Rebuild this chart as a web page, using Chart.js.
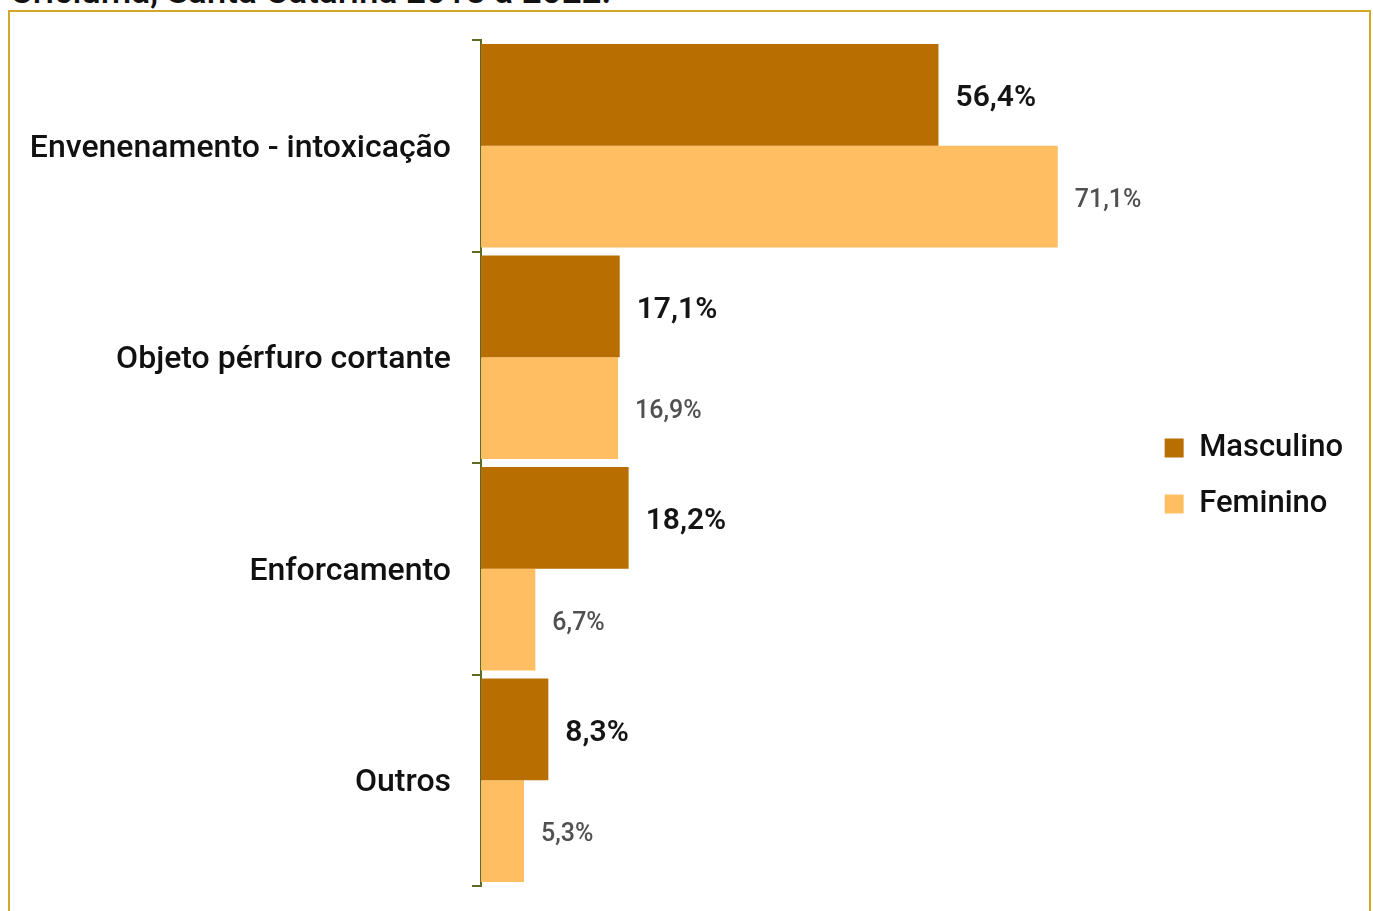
<!DOCTYPE html>
<html>
<head>
<meta charset="utf-8">
<script src="https://cdn.jsdelivr.net/npm/chart.js@4"></script>
<style>
  html, body { margin: 0; padding: 0; background: #fff; overflow: hidden; }
  body { width: 1373px; height: 911px; position: relative; font-family: Roboto, sans-serif; }
  #titulo { position: absolute; left: 10px; top: -29px; font-size: 35px; font-weight: 500; color: #111; white-space: nowrap; }
  #caixa { position: absolute; left: 8px; top: 10px; width: 1359px; height: 920px; border: 2px solid #D4A62A; background: #fff; }
  #wrap { position: absolute; left: 0; top: 0; width: 1373px; height: 911px; }
</style>
</head>
<body>
<div id="titulo">Criciúma, Santa Catarina 2018 a 2022.</div>
<div id="caixa"></div>
<div id="wrap"><canvas id="grafico"></canvas></div>
<script>
// meios utilizados, por sexo (%)
const categorias = ['Envenenamento - intoxicação', 'Objeto pérfuro cortante', 'Enforcamento', 'Outros'];
const masculino = [56.4, 17.1, 18.2, 8.3];
const feminino = [71.1, 16.9, 6.7, 5.3];

const corMasc = '#B86E00';
const corFem = '#FFBE62';
const corEixo = '#5E6B22';

// rótulo com o valor ao lado de cada barra
const rotulos = {
    id: 'rotulos',
    afterDatasetsDraw(chart) {
        const ctx = chart.ctx;
        chart.data.datasets.forEach((ds, i) => {
            const meta = chart.getDatasetMeta(i);
            ctx.save();
            if (i === 0) {
                ctx.font = '600 30px Roboto';
                ctx.fillStyle = '#151515';
            } else {
                ctx.font = '500 25px Roboto';
                ctx.fillStyle = '#505050';
            }
            ctx.textBaseline = 'middle';
            ctx.textAlign = 'left';
            meta.data.forEach((bar, j) => {
                const txt = ds.data[j].toFixed(1).replace('.', ',') + '%';
                ctx.fillText(txt, bar.x + 17, bar.y + 4);
            });
            ctx.restore();
        });
    }
};

const ctx = document.getElementById('grafico').getContext('2d');
const grafico = new Chart(ctx, {
    type: 'bar',
    data: {
        labels: categorias,
        datasets: [{
            label: 'Masculino',
            data: masculino,
            backgroundColor: corMasc
        }, {
            label: 'Feminino',
            data: feminino,
            backgroundColor: corFem
        }]
    },
    options: {
        indexAxis: 'y',
        responsive: true,
        maintainAspectRatio: false,
        animation: false,
        datasets: {
            bar: { categoryPercentage: 0.962, barPercentage: 1.0 }
        },
        layout: {
            padding: { top: 40, bottom: 25, left: 0, right: 20 }
        },
        scales: {
            x: {
                display: false,
                min: 0,
                max: 81.2
            },
            y: {
                afterFit(scale) {
                    scale.width = 481;
                    scale.paddingTop = 0;
                    scale.paddingBottom = 0;
                },
                grid: {
                    offset: true,
                    drawOnChartArea: false,
                    color: corEixo,
                    lineWidth: 2,
                    tickLength: 9
                },
                border: { color: corEixo, width: 2 },
                ticks: {
                    color: '#111',
                    padding: 21,
                    labelOffset: 3,
                    font: { family: 'Roboto', size: 32, weight: '500' }
                }
            }
        },
        plugins: {
            legend: {
                position: 'right',
                title: {
                    display: true,
                    text: ' ',
                    padding: 7,
                    font: { size: 10 }
                },
                labels: {
                    boxWidth: 19,
                    boxHeight: 19,
                    padding: 25,
                    color: '#111',
                    font: { family: 'Roboto', size: 31, weight: '500' }
                }
            },
            tooltip: { enabled: false }
        }
    },
    plugins: [rotulos]
});
</script>
</body>
</html>
